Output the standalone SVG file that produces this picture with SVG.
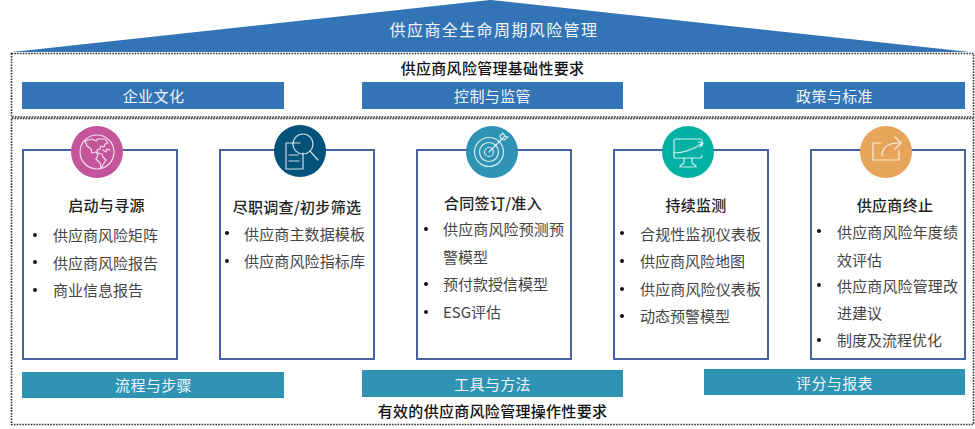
<svg xmlns="http://www.w3.org/2000/svg" width="975" height="429" viewBox="0 0 975 429">
<style>
text{font-family:"Noto Sans CJK SC","Liberation Sans",sans-serif;font-size:15px}
.frame{fill:none;stroke:#333;stroke-width:1.6;stroke-dasharray:1.6 1.2}
.bar{fill:#3274b5}
.teal{fill:#2f93b4}
.lbl{fill:#f2f6fa;text-anchor:middle;letter-spacing:.4px}
.head{fill:#111;text-anchor:middle;letter-spacing:.3px;font-weight:500}
.card{fill:#fff;stroke:#46629f;stroke-width:2}
.ttl{fill:#222;text-anchor:middle;letter-spacing:.3px;font-weight:500}
.it{fill:#444}
.dot{fill:#111}
.ic{fill:none;stroke:#fff;stroke-opacity:.8;stroke-width:1.2;stroke-linejoin:round;stroke-linecap:round}
</style>
<g id="roof"><polygon points="12,52 490,0 491,0 970,52" fill="#3274b5"/><text x="494" y="36" class="lbl" style="font-size:16px;letter-spacing:1.4px">供应商全生命周期风险管理</text></g>
<g id="foundation">
<rect class="frame" x="11.5" y="53.5" width="962" height="63.500"/>
<text x="492.500" y="74" class="head">供应商风险管理基础性要求</text>
</g>
<g id="bar-culture"><rect class="bar" x="22" y="82" width="262" height="27"/><text x="153.500" y="102" class="lbl">企业文化</text></g>
<g id="bar-control"><rect class="bar" x="362" y="82" width="261" height="27"/><text x="492.500" y="102" class="lbl">控制与监管</text></g>
<g id="bar-policy"><rect class="bar" x="704" y="82" width="261" height="27"/><text x="834.500" y="102" class="lbl">政策与标准</text></g>
<g id="operations">
<rect class="frame" x="11.500" y="118.500" width="962" height="306"/>
<text x="492.500" y="417" class="head">有效的供应商风险管理操作性要求</text>
</g>
<g id="card-1">
<rect class="card" x="23" y="150" width="154" height="209"/>
<circle cx="97" cy="152" r="26" fill="#c4559b"/>
<g class="ic"><circle cx="97" cy="152" r="17"/><path d="M85 141l2 5 4 3 1 4 4-1 2 3-2 4 4 4 1 5 3-5 2-3-3-3-1-3-4-1-1-3 3-1 1-3 3 1 1-3 3-1-3-4h-7l-2 2-4-2z"/><path d="M103 150l3 2 1-3 3 1"/></g>
<text x="106.500" y="211" class="ttl">启动与寻源</text>
<circle class="dot" cx="35" cy="235" r="2"/><text x="53" y="241" class="it">供应商风险矩阵</text>
<circle class="dot" cx="35" cy="262" r="2"/><text x="53" y="269" class="it">供应商风险报告</text>
<circle class="dot" cx="35" cy="290" r="2"/><text x="53" y="296" class="it">商业信息报告</text>
</g>
<g id="card-2">
<rect class="card" x="220" y="150" width="154" height="209"/>
<circle cx="300" cy="151" r="26" fill="#03527a"/>
<g class="ic"><path d="M300 143h-14v26h17v-16"/><path d="M289 155h9M289 161h10"/><circle cx="303" cy="144" r="10"/><path d="M310 151l8 9"/></g>
<text x="297" y="213" class="ttl">尽职调查/初步筛选</text>
<circle class="dot" cx="227" cy="233" r="2"/><text x="244" y="240" class="it" textLength="121">供应商主数据模板</text>
<circle class="dot" cx="227" cy="261" r="2"/><text x="244" y="267" class="it" textLength="121">供应商风险指标库</text>
</g>
<g id="card-3">
<rect class="card" x="417" y="150" width="154" height="209"/>
<circle cx="492" cy="152" r="26" fill="#2f93b4"/>
<g class="ic"><circle cx="489" cy="152" r="14.500"/><circle cx="489" cy="152" r="9.500"/><circle cx="489" cy="152" r="4.500"/><path d="M489 152l16-16M503 133l2 3 3 1-4 3-3-1-1-3z"/></g>
<text x="493" y="209" class="ttl">合同签订/准入</text>
<circle class="dot" cx="426" cy="229" r="2"/><text x="443" y="235" class="it" textLength="121">供应商风险预测预</text>
<text x="443" y="263" class="it">警模型</text>
<circle class="dot" cx="426" cy="284" r="2"/><text x="443" y="290" class="it">预付款授信模型</text>
<circle class="dot" cx="426" cy="312" r="2"/><text x="443" y="318" class="it">ESG评估</text>
</g>
<g id="card-4">
<rect class="card" x="614" y="150" width="154" height="209"/>
<circle cx="688" cy="152" r="26" fill="#03b1a4"/>
<g class="ic"><path d="M702 146v-5q0-2-2-2h-24q-2 0-2 2v15q0 2 2 2h24q2 0 2-3"/><path d="M674 153q14 0 29-10M698 142l5 1-3 4"/><path d="M684 158v5l-4 3v1h16v-1l-4-3v-5"/></g>
<text x="696" y="211" class="ttl">持续监测</text>
<circle class="dot" cx="622" cy="233" r="2"/><text x="640" y="240" class="it" textLength="121">合规性监视仪表板</text>
<circle class="dot" cx="622" cy="261" r="2"/><text x="640" y="267" class="it">供应商风险地图</text>
<circle class="dot" cx="622" cy="289" r="2"/><text x="640" y="295" class="it" textLength="121">供应商风险仪表板</text>
<circle class="dot" cx="622" cy="316" r="2"/><text x="640" y="322" class="it">动态预警模型</text>
</g>
<g id="card-5">
<rect class="card" x="811" y="150" width="154" height="209"/>
<circle cx="886" cy="152" r="26" fill="#e6a558"/>
<g class="ic"><path d="M881 143h-8v17h26v-10"/><path d="M882 156q0-13 17-13M895 137l6 6-6 6"/></g>
<text x="895" y="211" class="ttl">供应商终止</text>
<circle class="dot" cx="819" cy="231" r="2"/><text x="837" y="238" class="it" textLength="121">供应商风险年度绩</text>
<text x="837" y="266" class="it">效评估</text>
<circle class="dot" cx="819" cy="285" r="2"/><text x="837" y="292" class="it" textLength="121">供应商风险管理改</text>
<text x="837" y="319" class="it">进建议</text>
<circle class="dot" cx="819" cy="340" r="2"/><text x="837" y="346" class="it">制度及流程优化</text>
</g>
<g id="bar-process"><rect class="teal" x="22" y="372" width="262" height="26"/><text x="153.500" y="391" class="lbl">流程与步骤</text></g>
<g id="bar-tools"><rect class="teal" x="362" y="370" width="261" height="27"/><text x="492.500" y="390" class="lbl">工具与方法</text></g>
<g id="bar-scoring"><rect class="teal" x="704" y="369" width="261" height="26"/><text x="834.500" y="389" class="lbl">评分与报表</text></g>
<g id="connectors"></g>
</svg>
